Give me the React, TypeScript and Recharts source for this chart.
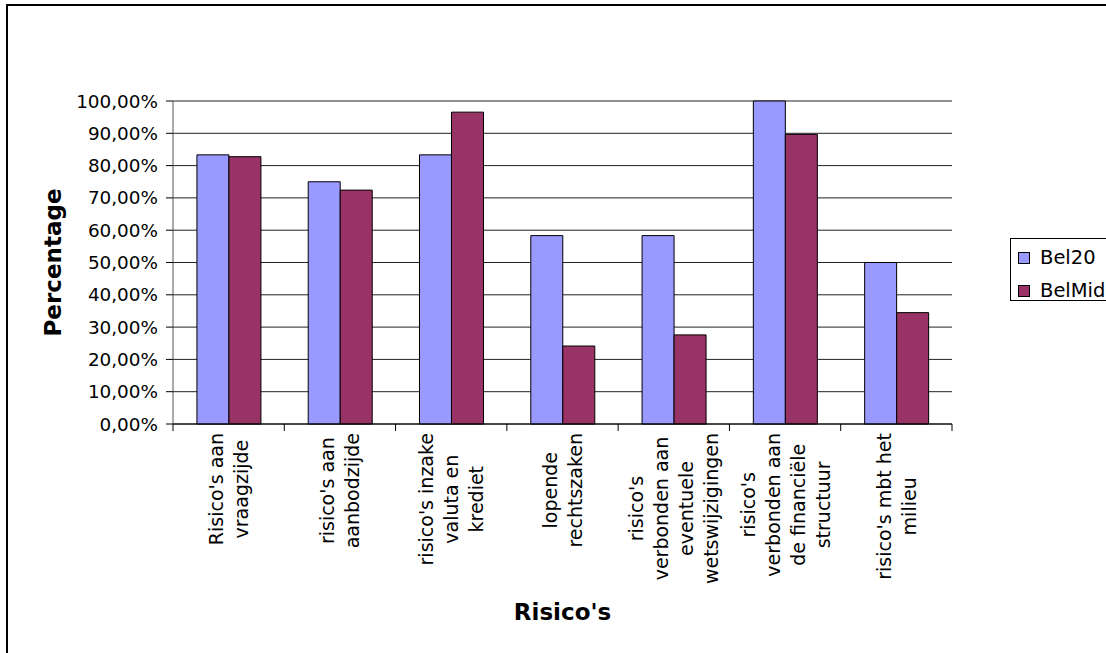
import React from 'react';
import { BarChart, Bar, XAxis, YAxis, CartesianGrid, Legend, Label } from 'recharts';

const categories = [
  "Risico's aan vraagzijde",
  "risico's aan aanbodzijde",
  "risico's inzake valuta en krediet",
  'lopende rechtszaken',
  "risico's verbonden aan eventuele wetswijzigingen",
  "risico's verbonden aan de financiële structuur",
  "risico's mbt het milieu",
];
const categoryLines = [
  ["Risico's aan", 'vraagzijde'],
  ["risico's aan", 'aanbodzijde'],
  ["risico's inzake", 'valuta en', 'krediet'],
  ['lopende', 'rechtszaken'],
  ["risico's", 'verbonden aan', 'eventuele', 'wetswijzigingen'],
  ["risico's", 'verbonden aan', 'de financiële', 'structuur'],
  ["risico's mbt het", 'milieu'],
];
const bel20 = [83.33, 75.0, 83.33, 58.33, 58.33, 100.0, 50.0];
const belMid = [82.76, 72.41, 96.55, 24.14, 27.59, 89.66, 34.48];
const seriesNames = ['Bel20', 'BelMid'];
const seriesColors = ['#9999FF', '#993366'];
const yTicks = [0, 10, 20, 30, 40, 50, 60, 70, 80, 90, 100];
const xTitle = "Risico's";
const yTitle = 'Percentage';

const data = categories.map((c, i) => ({ cat: c, Bel20: bel20[i], BelMid: belMid[i] }));

const W = 1106;
const H = 653;
const M = { top: 101, right: 154, bottom: 0, left: 0 };
const Y_W = 173;
const X_H = 229;
const BAND = (W - M.left - Y_W - M.right) / categories.length;
const FONT = '"DejaVu Sans", Verdana, sans-serif';
const LABEL_SIZE = 19;
const LINE_GAP = 25;

let ctx: CanvasRenderingContext2D | null = null;
function measure(s: string, size: number) {
  try {
    if (!ctx) ctx = document.createElement('canvas').getContext('2d');
    if (ctx) {
      ctx.font = `${size}px "DejaVu Sans"`;
      return ctx.measureText(s).width;
    }
  } catch (e) {}
  return s.length * size * 0.6;
}

const XTick = (props: any) => {
  const { x, y, payload, index } = props;
  const idx = categories.indexOf(payload.value);
  const lines = categoryLines[idx >= 0 ? idx : index] || [String(payload.value)];
  const maxW = Math.max(...lines.map((l) => measure(l, LABEL_SIZE)));
  const cy = y + 9 + maxW / 2;
  const n = lines.length;
  return (
    <g>
      <line x1={x + BAND / 2} x2={x + BAND / 2} y1={y} y2={y + 7} stroke="#000" strokeWidth={1} />
      {index === 0 && <line x1={x - BAND / 2} x2={x - BAND / 2} y1={y} y2={y + 7} stroke="#000" strokeWidth={1} />}
      {lines.map((l, i) => {
        const lx = x + (i - (n - 1) / 2) * LINE_GAP;
        return (
          <text
            key={i}
            transform={`translate(${lx},${cy}) rotate(-90)`}
            textAnchor="middle"
            dominantBaseline="central"
            fontFamily={FONT}
            fontSize={LABEL_SIZE}
            fill="#000"
          >
            {l}
          </text>
        );
      })}
    </g>
  );
};

const LegendContent = () => (
  <div
    style={{
      border: '1px solid #000',
      width: 120,
      height: 63,
      boxSizing: 'border-box',
      background: '#fff',
      fontFamily: FONT,
      fontSize: 19.5,
      position: 'relative',
    }}
  >
    {seriesNames.map((s, i) => (
      <div key={s} style={{ position: 'absolute', left: 7, top: 7 + i * 33, height: 24, display: 'flex', alignItems: 'center' }}>
        <span style={{ display: 'inline-block', width: 10, height: 10, border: '1px solid #000', background: seriesColors[i], marginRight: 10 }} />
        <span style={{ lineHeight: '24px', color: '#000' }}>{s}</span>
      </div>
    ))}
  </div>
);

export default function App() {
  return (
    <div style={{ position: 'absolute', left: 0, top: 0, width: W, height: H, overflow: 'hidden', background: '#fff' }}>
      <div style={{ position: 'absolute', left: 6, top: 4, width: 1300, height: 900, border: '2px solid #000' }} />
      <div style={{ position: 'absolute', left: 0, top: 0 }}>
        <BarChart width={W} height={H} data={data} margin={M} barCategoryGap="21.5%" barGap={0}>
          <CartesianGrid horizontal vertical={false} stroke="#222" strokeOpacity={1} />
          <XAxis
            dataKey="cat"
            height={X_H}
            interval={0}
            tickLine={false}
            tickSize={0}
            tickMargin={0}
            axisLine={{ stroke: '#000' }}
            tick={<XTick />}
          >
            <Label
              content={(p: any) => {
                const vb = p.viewBox || { x: Y_W, y: 424, width: W - Y_W - M.right };
                return (
                  <text x={vb.x + vb.width / 2} y={vb.y + 196} textAnchor="middle" fontFamily={FONT} fontSize={23} fontWeight="bold" fill="#000">
                    {xTitle}
                  </text>
                );
              }}
            />
          </XAxis>
          <YAxis
            width={Y_W}
            domain={[0, 100]}
            ticks={yTicks}
            interval={0}
            tickSize={7}
            tickMargin={8}
            tickLine={{ stroke: '#000' }}
            axisLine={{ stroke: '#555' }}
            tick={{ fontFamily: FONT, fontSize: 18.4, fill: '#000' }}
            tickFormatter={(v: number) => v.toFixed(2).replace('.', ',') + '%'}
          >
            <Label
              content={(p: any) => {
                const vb = p.viewBox || { x: 0, y: 101, width: Y_W, height: 323 };
                const cx = 53;
                const cy = vb.y + vb.height / 2;
                return (
                  <text
                    transform={`translate(${cx},${cy}) rotate(-90)`}
                    textAnchor="middle"
                    dominantBaseline="central"
                    fontFamily={FONT}
                    fontSize={23}
                    fontWeight="bold"
                    fill="#000"
                  >
                    {yTitle}
                  </text>
                );
              }}
            />
          </YAxis>
          <YAxis yAxisId="frame" orientation="right" width={0} domain={[0, 100]} tick={false} tickLine={false} axisLine={{ stroke: '#888' }} />
          <Legend
            layout="vertical"
            align="center"
            verticalAlign="middle"
            content={<LegendContent />}
            wrapperStyle={{ left: 1010, top: 238, width: 120 }}
          />
          {seriesNames.map((s, i) => (
            <Bar key={s} dataKey={s} fill={seriesColors[i]} stroke="#000" strokeWidth={1} isAnimationActive={false} />
          ))}
        </BarChart>
      </div>
    </div>
  );
}
